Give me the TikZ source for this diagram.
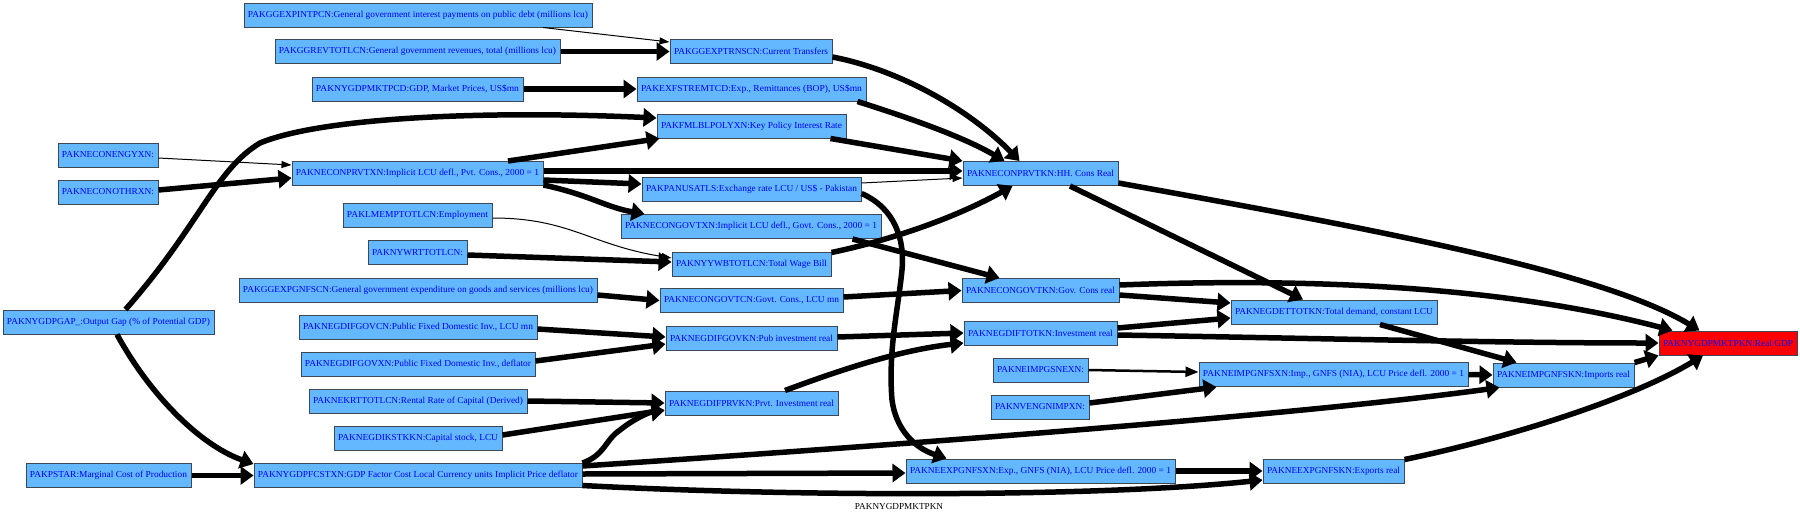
\documentclass[tikz,border=0pt]{standalone}
\usepackage{fontspec}
\setmainfont{Liberation Serif}
\usetikzlibrary{arrows.meta,calc}
\definecolor{boxfill}{RGB}{99,184,255}
\definecolor{boxdraw}{RGB}{60,72,88}
\definecolor{txtblue}{RGB}{0,0,255}
\newcommand\fitt[2]{\resizebox{\dimexpr #1pt-8pt\relax}{\height}{#2}}
\begin{document}
\begin{tikzpicture}[x=1pt,y=-1pt,
  nd/.style={draw=boxdraw, line width=1pt, fill=boxfill, text=txtblue, inner sep=0pt, minimum height=24pt, font=\fontsize{9.2}{11}\selectfont},
  ndred/.style={nd, fill=red},
  ethin/.style={line width=1pt, -{Triangle[length=10pt,width=7pt]}},
  emed/.style={line width=2.5pt, -{Triangle[length=13pt,width=10pt]}},
  ethick/.style={line width=5.5pt, -{Triangle[length=13pt,width=18pt]}},
  lbl/.style={font=\fontsize{9.2}{11}\selectfont, inner sep=0pt}]
\useasboundingbox (0,0) rectangle (1800,515);
% column 1
\node[nd, minimum width=100pt] (engy) at (108,155) {\fitt{100}{PAKNECONENGYXN:}};
\node[nd, minimum width=100pt] (othr) at (108,192) {\fitt{100}{PAKNECONOTHRXN:}};
\node[nd, minimum width=211pt] (gap) at (108.5,322) {\fitt{211}{PAKNYGDPGAP\_:Output Gap (\% of Potential GDP)}};
\node[nd, minimum width=165pt] (pstar) at (108.5,475.5) {\fitt{165}{PAKPSTAR:Marginal Cost of Production}};
% column 2
\node[nd, minimum width=348pt] (intp) at (418,15) {\fitt{348}{PAKGGEXPINTPCN:General government interest payments on public debt (millions lcu)}};
\node[nd, minimum width=285pt] (rev) at (417.5,51.5) {\fitt{285}{PAKGGREVTOTLCN:General government revenues, total (millions lcu)}};
\node[nd, minimum width=211pt] (mktpcd) at (417.5,89) {\fitt{211}{PAKNYGDPMKTPCD:GDP, Market Prices, US\$mn}};
\node[nd, minimum width=251pt] (prvtxn) at (417.5,173.5) {\fitt{251}{PAKNECONPRVTXN:Implicit LCU defl., Pvt. Cons., 2000 = 1}};
\node[nd, minimum width=149pt] (emp) at (417.5,215.5) {\fitt{149}{PAKLMEMPTOTLCN:Employment}};
\node[nd, minimum width=99pt] (wrt) at (417.5,252.5) {\fitt{99}{PAKNYWRTTOTLCN:}};
\node[nd, minimum width=358pt] (gnfscn) at (418,290) {\fitt{358}{PAKGGEXPGNFSCN:General government expenditure on goods and services (millions lcu)}};
\node[nd, minimum width=238pt] (govcn) at (418,327) {\fitt{238}{PAKNEGDIFGOVCN:Public Fixed Domestic Inv., LCU mn}};
\node[nd, minimum width=234pt] (govxn) at (418,364) {\fitt{234}{PAKNEGDIFGOVXN:Public Fixed Domestic Inv., deflator}};
\node[nd, minimum width=218pt] (krt) at (418,401) {\fitt{218}{PAKNEKRTTOTLCN:Rental Rate of Capital (Derived)}};
\node[nd, minimum width=168pt] (kst) at (418,438) {\fitt{168}{PAKNEGDIKSTKKN:Capital stock, LCU}};
\node[nd, minimum width=328pt] (fcst) at (418,475.5) {\fitt{328}{PAKNYGDPFCSTXN:GDP Factor Cost Local Currency units Implicit Price deflator}};
% column 3
\node[nd, minimum width=162pt] (trns) at (751,51.5) {\fitt{162}{PAKGGEXPTRNSCN:Current Transfers}};
\node[nd, minimum width=229pt] (remt) at (751.5,89) {\fitt{229}{PAKEXFSTREMTCD:Exp., Remittances (BOP), US\$mn}};
\node[nd, minimum width=189pt] (poly) at (751.5,126) {\fitt{189}{PAKFMLBLPOLYXN:Key Policy Interest Rate}};
\node[nd, minimum width=219pt] (panus) at (751.5,189.5) {\fitt{219}{PAKPANUSATLS:Exchange rate LCU / US\$ - Pakistan}};
\node[nd, minimum width=260pt] (govtxn) at (751,226.5) {\fitt{260}{PAKNECONGOVTXN:Implicit LCU defl., Govt. Cons., 2000 = 1}};
\node[nd, minimum width=159pt] (wb) at (751.5,264) {\fitt{159}{PAKNYYWBTOTLCN:Total Wage Bill}};
\node[nd, minimum width=183pt] (govtcn) at (751.5,300.5) {\fitt{183}{PAKNECONGOVTCN:Govt. Cons., LCU mn}};
\node[nd, minimum width=171pt] (govkn) at (751.5,338) {\fitt{171}{PAKNEGDIFGOVKN:Pub investment real}};
\node[nd, minimum width=173pt] (prvkn) at (751.5,403) {\fitt{173}{PAKNEGDIFPRVKN:Prvt. Investment real}};
% column 4
\node[nd, minimum width=155pt] (prvtkn) at (1040.5,173.5) {\fitt{155}{PAKNECONPRVTKN:HH. Cons Real}};
\node[nd, minimum width=157pt] (govtkn) at (1040.5,290.5) {\fitt{157}{PAKNECONGOVTKN:Gov. Cons real}};
\node[nd, minimum width=153pt] (tottkn) at (1040.5,333) {\fitt{153}{PAKNEGDIFTOTKN:Investment real}};
\node[nd, minimum width=95pt] (sneexn) at (1040.5,370) {\fitt{95}{PAKNEIMPGSNEXN:}};
\node[nd, minimum width=98pt] (nimp) at (1040,407) {\fitt{98}{PAKNVENGNIMPXN:}};
\node[nd, minimum width=269pt] (expxn) at (1040.5,471) {\fitt{269}{PAKNEEXPGNFSXN:Exp., GNFS (NIA), LCU Price defl. 2000 = 1}};
% column 5
\node[nd, minimum width=206pt] (det) at (1334,312) {\fitt{206}{PAKNEGDETTOTKN:Total demand, constant LCU}};
\node[nd, minimum width=269pt] (impxn) at (1333.5,374.5) {\fitt{269}{PAKNEIMPGNFSXN:Imp., GNFS (NIA), LCU Price defl. 2000 = 1}};
\node[nd, minimum width=141pt] (expkn) at (1333.5,471) {\fitt{141}{PAKNEEXPGNFSKN:Exports real}};
% column 6-7
\node[nd, minimum width=141pt] (impkn) at (1563.5,375) {\fitt{141}{PAKNEIMPGNFSKN:Imports real}};
\node[ndred, minimum width=138pt] (gdp) at (1728,343) {\fitt{138}{PAKNYGDPMKTPKN:Real GDP}};
% caption
\node[lbl] (cap) at (899,506) {PAKNYGDPMKTPKN};

% edges
\draw[ethin] ($(intp.south)+(125,0)$) -- ($(trns.west)+(0,-9.5)$);
\draw[ethick] (rev.east) -- (trns.west);
\draw[ethick] (mktpcd.east) -- (remt.west);
\draw[ethick] ($(gap.north)+(17,0)$) .. controls (200,225) and (215,170) .. (260,143) .. controls (320,118) and (480,110) .. ($(poly.west)+(0,-8)$);
\draw[ethin] ($(engy.east)+(0,3)$) -- ($(prvtxn.west)+(0,-8.5)$);
\draw[ethick] ($(othr.east)+(0,-2)$) -- ($(prvtxn.west)+(0,4.5)$);
\draw[ethick] ($(prvtxn.north)+(90.5,0)$) -- ($(poly.south west)+(3,0)$);
\draw[ethick] ($(prvtxn.east)+(0,-2.5)$) -- ($(prvtkn.west)+(0,-2.5)$);
\draw[ethick] ($(prvtxn.east)+(0,6.5)$) -- ($(panus.west)+(0,-5.5)$);
\draw[ethick] ($(prvtxn.south east)+(0,-1)$) .. controls (590,195) and (605,207) .. ($(govtxn.north west)+(24,0)$);
\draw[ethin] ($(emp.east)+(0,2.5)$) .. controls (570,218) and (590,245) .. ($(wb.west)+(0,-6)$);
\draw[ethick] ($(wrt.east)+(0,2.5)$) -- ($(wb.west)+(0,-2)$);
\draw[ethin] ($(panus.east)+(0,-6.5)$) -- ($(prvtkn.west)+(0,4.5)$);
\draw[ethick] ($(panus.east)+(0,4)$) .. controls (895,208) and (905,240) .. (902,270) .. controls (898,310) and (888,350) .. (892,400) .. controls (896,430) and (915,448) .. ($(expxn.north west)+(41,0)$);
\draw[ethick] ($(govtxn.south east)+(-29,0)$) -- ($(govtkn.north west)+(38,0)$);
\draw[ethick] ($(wb.north east)+(0,1)$) .. controls (900,238) and (960,215) .. ($(prvtkn.south west)+(50,0)$);
\draw[ethick] ($(trns.east)+(0,5.5)$) .. controls (900,70) and (970,110) .. ($(prvtkn.north west)+(57,0)$);
\draw[ethick] ($(remt.south east)+(-9,0)$) .. controls (900,115) and (960,135) .. ($(prvtkn.north west)+(42,0)$);
\draw[ethick] ($(poly.south east)+(-16,0)$) -- (prvtkn.north west);
\draw[ethick] ($(prvtkn.east)+(0,9.5)$) .. controls (1350,225) and (1600,270) .. ($(gdp.north west)+(41,0)$);
\draw[ethick] ($(prvtkn.south)+(29.5,0)$) -- ($(det.north)+(-31,0)$);
\draw[ethick] ($(govtkn.east)+(0,4.5)$) -- ($(det.west)+(0,-9)$);
\draw[ethick] ($(govtkn.east)+(0,-5.5)$) .. controls (1300,278) and (1500,285) .. ($(gdp.north west)+(14,0)$);
\draw[ethick] ($(tottkn.east)+(0,-5)$) -- ($(det.west)+(0,6)$);
\draw[ethick] ($(tottkn.east)+(0,2)$) .. controls (1300,338) and (1500,343) .. (gdp.west);
\draw[ethick] ($(det.south)+(46,0)$) -- ($(impkn.north west)+(24,0)$);
\draw[emed] (sneexn.east) -- ($(impxn.west)+(0,-2.5)$);
\draw[ethick] ($(nimp.east)+(0,-4)$) -- ($(impxn.south west)+(18,0)$);
\draw[ethick] (impxn.east) -- (impkn.west);
\draw[ethick] (impkn.north east) -- (gdp.south west);
\draw[ethick] (expxn.east) -- (expkn.west);
\draw[ethick] ($(expkn.north east)+(0,1)$) .. controls (1500,440) and (1630,400) .. ($(gdp.south)+(-25,0)$);
\draw[ethick] ($(fcst.east)+(0,-9.5)$) .. controls (900,445) and (1300,415) .. ($(impkn.south west)+(7,0)$);
\draw[ethick] ($(fcst.east)+(0,-1.5)$) -- ($(expxn.west)+(0,2)$);
\draw[ethick] ($(fcst.east)+(0,10)$) .. controls (800,497) and (1100,497) .. ($(expkn.west)+(0,9)$);
\draw[ethick] (fcst.north east) .. controls (605,455) and (605,440) .. (620,430) .. controls (635,418) and (650,412) .. ($(prvkn.south west)+(0,-5)$);
\draw[ethick] ($(kst.east)+(0,-3)$) -- ($(prvkn.west)+(0,7)$);
\draw[ethick] (krt.east) -- (prvkn.west);
\draw[ethick] ($(prvkn.north)+(33.5,0)$) .. controls (840,370) and (900,350) .. ($(tottkn.west)+(0,10)$);
\draw[ethick] ($(govcn.east)+(0,2)$) -- ($(govkn.west)+(0,-1)$);
\draw[ethick] ($(govxn.east)+(0,-3)$) -- ($(govkn.west)+(0,6)$);
\draw[ethick] ($(govkn.east)+(0,-1)$) -- (tottkn.west);
\draw[ethick] ($(gnfscn.east)+(0,5)$) -- (govtcn.west);
\draw[ethick] ($(govtcn.east)+(0,-3.5)$) -- (govtkn.west);
\draw[ethick] ($(gap.south)+(8.5,0)$) .. controls (150,395) and (200,445) .. ($(fcst.west)+(0,-11.5)$);
\draw[ethick] (pstar.east) -- (fcst.west);
\end{tikzpicture}
\end{document}
